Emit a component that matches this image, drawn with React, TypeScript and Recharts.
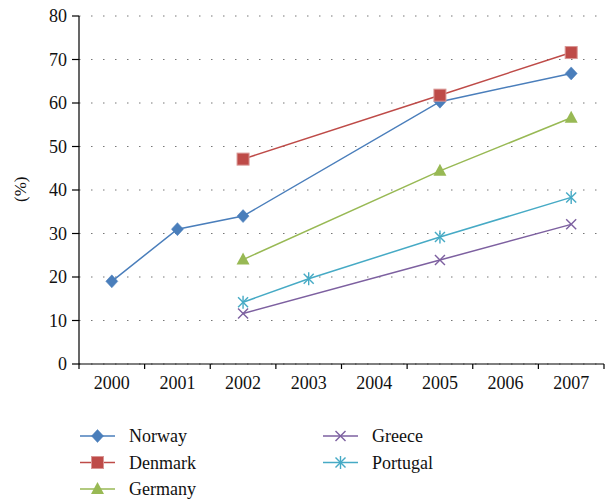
import React from 'react';
import {
  LineChart,
  Line,
  XAxis,
  YAxis,
  CartesianGrid,
  Legend
} from 'recharts';

const YEARS = ['2000', '2001', '2002', '2003', '2004', '2005', '2006', '2007'];
const NORWAY = [19, 31, 34, null, null, 60.3, null, 66.8];
const DENMARK = [null, null, 47.1, null, null, 61.8, null, 71.6];
const GERMANY = [null, null, 24, null, null, 44.4, null, 56.6];
const GREECE = [null, null, 11.6, null, null, 23.9, null, 32.1];
const PORTUGAL = [null, null, 14.2, 19.6, null, 29.2, null, 38.3];
const Y_TICKS = [0, 10, 20, 30, 40, 50, 60, 70, 80];

const FONT = "'Times New Roman', 'Liberation Serif', 'DejaVu Serif', serif";
const txt = { fontFamily: FONT };

const SERIES = [
  { key: 'Norway', values: NORWAY, color: '#4a7ebb', shape: 'diamond' },
  { key: 'Denmark', values: DENMARK, color: '#be4b48', shape: 'square' },
  { key: 'Germany', values: GERMANY, color: '#98b954', shape: 'triangle' },
  { key: 'Greece', values: GREECE, color: '#7d60a0', shape: 'x' },
  { key: 'Portugal', values: PORTUGAL, color: '#46aac5', shape: 'star' }
];

// numeric x so tick lines can sit between the years
const data = YEARS.map((year, i) => {
  const row: any = { pos: i + 0.5, year };
  SERIES.forEach(s => { row[s.key] = s.values[i]; });
  return row;
});

const Marker = ({ shape, cx, cy, color }: any) => {
  switch (shape) {
    case 'diamond':
      return <polygon points={`${cx},${cy - 6.5} ${cx + 6},${cy} ${cx},${cy + 6.5} ${cx - 6},${cy}`} fill={color} stroke={color} strokeWidth={0.5} />;
    case 'square':
      return <rect x={cx - 6} y={cy - 6} width={12} height={12} fill={color} stroke="#d99694" strokeWidth={1} />;
    case 'triangle':
      return <polygon points={`${cx},${cy - 7} ${cx + 6.5},${cy + 5} ${cx - 6.5},${cy + 5}`} fill={color} />;
    case 'x':
      return (
        <g stroke={color} strokeWidth={1.4}>
          <line x1={cx - 5} y1={cy - 5} x2={cx + 5} y2={cy + 5} />
          <line x1={cx - 5} y1={cy + 5} x2={cx + 5} y2={cy - 5} />
        </g>
      );
    default:
      return (
        <g stroke={color} strokeWidth={1.4}>
          <line x1={cx - 5} y1={cy - 5} x2={cx + 5} y2={cy + 5} />
          <line x1={cx - 5} y1={cy + 5} x2={cx + 5} y2={cy - 5} />
          <line x1={cx} y1={cy - 6.5} x2={cx} y2={cy + 6.5} />
        </g>
      );
  }
};

const makeDot = (shape: string, color: string) => (props: any) => {
  const { cx, cy, value, index } = props;
  if (value == null || cx == null || cy == null) return <g key={`d-${index}`} />;
  return <g key={`d-${index}`}><Marker shape={shape} cx={cx} cy={cy} color={color} /></g>;
};

const YearTick = (props: any) => {
  const { x, y, payload, width } = props;
  if (payload.value >= YEARS.length) return <g />;
  const half = (width || 525) / YEARS.length / 2;
  return (
    <text x={x + half} y={y} dy="0.71em" textAnchor="middle" fontSize={18} fontFamily={FONT} style={txt} fill="#111">
      {YEARS[payload.value]}
    </text>
  );
};

const LegendBox = () => {
  const cols = [SERIES.slice(0, 3), SERIES.slice(3)];
  const colX = [80, 323];
  return (
    <svg width={609} height={80}>
      {cols.map((col, c) =>
        col.map((s, r) => {
          const y = 16 + r * 26.5;
          const x = colX[c];
          return (
            <g key={s.key}>
              <line x1={x} y1={y} x2={x + 35} y2={y} stroke={s.color} strokeWidth={1.5} />
              <Marker shape={s.shape} cx={x + 17.5} cy={y} color={s.color} />
              <text x={x + 49} y={y} dy="0.35em" fontSize={18} fontFamily={FONT} style={txt} fill="#111">{s.key}</text>
            </g>
          );
        })
      )}
    </svg>
  );
};

export default function App() {
  return (
    <div style={{ position: 'absolute', left: 0, top: 0, width: 609, height: 500, background: '#fff', fontFamily: FONT }}>
      <LineChart width={609} height={500} data={data} margin={{ top: 16, right: 5, left: 0, bottom: 96 }} style={txt}>
        <CartesianGrid vertical={false} stroke="#777" strokeDasharray="1.5 10.5" />
        <XAxis
          dataKey="pos"
          type="number"
          domain={[0, YEARS.length]}
          ticks={[0, 1, 2, 3, 4, 5, 6, 7, 8]}
          tick={<YearTick />}
          tickSize={5}
          tickMargin={7}
          height={40}
          stroke="#000"
          axisLine={{ stroke: '#000', strokeWidth: 1.2 }}
          tickLine={{ stroke: '#000', strokeWidth: 1.2 }}
        />
        <YAxis
          domain={[0, 80]}
          ticks={Y_TICKS}
          width={79}
          tickSize={7}
          tickMargin={5}
          axisLine={{ stroke: '#000', strokeWidth: 1.2 }}
          tickLine={{ stroke: '#000', strokeWidth: 1.2 }}
          tick={{ fontSize: 18, fontFamily: FONT, fill: '#111' }}
          label={{ value: '(%)', angle: -90, position: 'insideLeft', offset: 20, dy: 12, fontSize: 17, fontFamily: FONT, fill: '#111' }}
        />
        {SERIES.map(s => (
          <Line
            key={s.key}
            type="linear"
            dataKey={s.key}
            stroke={s.color}
            strokeWidth={1.5}
            connectNulls
            dot={makeDot(s.shape, s.color)}
            activeDot={false}
            isAnimationActive={false}
          />
        ))}
        <Legend
          layout="horizontal"
          verticalAlign="middle"
          align="center"
          wrapperStyle={{ left: 0, top: 420, width: 609, height: 80 }}
          content={() => <LegendBox />}
        />
      </LineChart>
    </div>
  );
}
